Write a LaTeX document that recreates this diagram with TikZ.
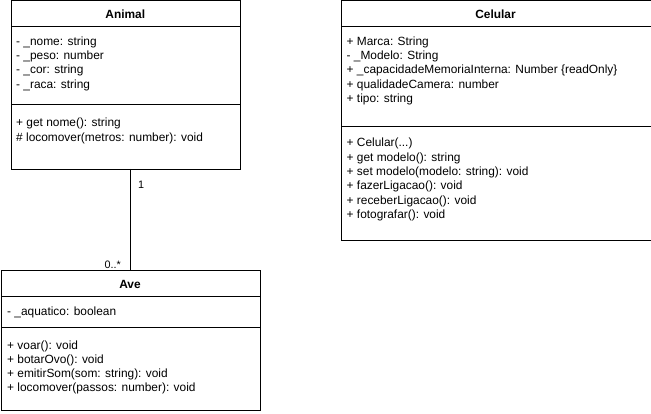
\documentclass[tikz,border=0pt]{standalone}
\usepackage{fontspec}
\setmainfont{Liberation Sans}
\begin{document}
\begin{tikzpicture}[x=1pt,y=-1pt,
  comp/.style={draw=black, line width=1pt, fill=white, inner sep=0pt, anchor=north west},
  txt/.style={anchor=base west, inner sep=0pt, font=\fontsize{11.9}{14}\selectfont},
  ttl/.style={inner sep=0pt, font=\fontsize{11.9}{14}\selectfont\bfseries},
  lbl/.style={inner sep=0pt, font=\fontsize{10.8}{13}\selectfont}]
\useasboundingbox[fill=white] (0,0) rectangle (651,414);
% Animal
\node[comp, minimum width=229.5pt, minimum height=25.5pt] (animalhead) at (10.5,0.5) {};
\node[comp, minimum width=229.5pt, minimum height=78pt] (animalattr) at (10.5,26) {};
\node[comp, minimum width=229.5pt, minimum height=65pt] (animalmeth) at (10.5,104) {};
\node[ttl, anchor=base] (animaltitle) at (125.25,18.5) {Animal};
\foreach \t [count=\i] in {- \_nome: string, - \_peso: number, - \_cor: string, - \_raca: string}
  \node[txt] (aa\i) at (16,{45.5+14.2*(\i-1)}) {\t};
\node[txt] (am1) at (16,127) {+ get nome(): string};
\node[txt] (am2) at (16,141.2) {\# locomover(metros: number): void};
% Celular
\node[comp, minimum width=310pt, minimum height=25.5pt] (celhead) at (340.5,0.5) {};
\node[comp, minimum width=310pt, minimum height=100pt] (celattr) at (340.5,26) {};
\node[comp, minimum width=310pt, minimum height=114pt] (celmeth) at (340.5,126) {};
\node[ttl, anchor=base] (celtitle) at (495.5,18.5) {Celular};
\foreach \t [count=\i] in {+ Marca: String, - \_Modelo: String, + \_capacidadeMemoriaInterna: Number \{readOnly\}, + qualidadeCamera: number, + tipo: string}
  \node[txt] (ca\i) at (346.5,{45.5+14.2*(\i-1)}) {\t};
\node[txt] (cm1) at (346.5,147) {+ Celular(...)};
\foreach \t [count=\i from 2] in {+ get modelo(): string, + set modelo(modelo: string): void, + fazerLigacao(): void, + receberLigacao(): void, + fotografar(): void}
  \node[txt] (cm\i) at (346.5,{147+14.3*(\i-1)}) {\t};
% Ave
\node[comp, minimum width=259pt, minimum height=26pt] (avehead) at (0.5,270.5) {};
\node[comp, minimum width=259pt, minimum height=30pt] (aveattr) at (0.5,296.5) {};
\node[comp, minimum width=259pt, minimum height=83.5pt] (avemeth) at (0.5,326.5) {};
\node[ttl, anchor=base] (avetitle) at (130,288) {Ave};
\node[txt] (va1) at (7,315.7) {- \_aquatico: boolean};
\foreach \t [count=\i] in {+ voar(): void, + botarOvo(): void, + emitirSom(som: string): void, + locomover(passos: number): void}
  \node[txt] (vm\i) at (7,{349+14*(\i-1)}) {\t};
% association
\coordinate (assoctop) at (130,169);
\coordinate (assocbot) at (130,270.5);
\draw[line width=1pt] (assoctop) -- (assocbot);
\node[lbl, anchor=base west] (mult1) at (138,189) {1};
\node[lbl, anchor=base east] (mult2) at (121,268.5) {0..*};
\end{tikzpicture}
\end{document}
